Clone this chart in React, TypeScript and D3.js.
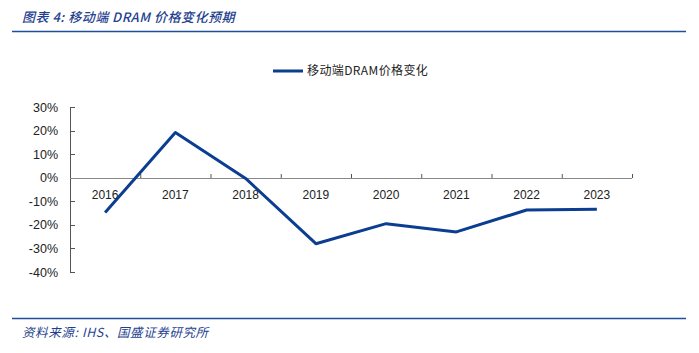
import React from "react";
import * as d3 from "d3";

const years = ["2016", "2017", "2018", "2019", "2020", "2021", "2022", "2023"];
const priceChange = [-14.8, 19.2, -0.3, -28.0, -19.5, -23.0, -13.7, -13.4];
const yTicks = [30, 20, 10, 0, -10, -20, -30, -40];

const W = 699;
const H = 353;
const plot = { left: 70, right: 632, top: 107, bottom: 272 };
const blue = "#0b3d91";

export default function App() {
  const x = d3.scaleBand<string>().domain(years).range([plot.left, plot.right]);
  const y = d3.scaleLinear().domain([-40, 30]).range([plot.bottom, plot.top]);
  const line = d3
    .line<number>()
    .x((_, i) => (x(years[i]) as number) + x.bandwidth() / 2)
    .y((d) => y(d));
  const font = "'Liberation Sans', Arial, sans-serif";
  const y0 = y(0);
  return (
    <svg width={W} height={H} style={{ position: "absolute", left: 0, top: 0 }}>
      <rect width={W} height={H} fill="#fff" />
      <text x={22} y={22} fontFamily="'Noto Sans CJK SC', sans-serif" fontSize={13} fontStyle="italic" fontWeight={500} letterSpacing={0.5} fill="#1f3f8f">
        图表 4:  移动端 DRAM 价格变化预期
      </text>
      <line x1={12} x2={686} y1={31.5} y2={31.5} stroke="#1f4e9a" strokeWidth={1.3} />
      <line x1={12} x2={686} y1={318.5} y2={318.5} stroke="#1f4e9a" strokeWidth={1.3} />
      <text x={22} y={337} fontFamily="'Noto Sans CJK SC', sans-serif" fontSize={12.5} fontStyle="italic" letterSpacing={0.6} fill="#1f3f8f">
        资料来源:  IHS、国盛证券研究所
      </text>
      {/* legend */}
      <line x1={273} x2={303} y1={71} y2={71} stroke={blue} strokeWidth={3} />
      <text x={307} y={75} fontFamily="'Noto Sans CJK SC', sans-serif" fontSize={12} letterSpacing={0.4} fill="#222">
        移动端DRAM价格变化
      </text>
      {/* y axis */}
      <line x1={plot.left + 0.5} x2={plot.left + 0.5} y1={plot.top} y2={plot.bottom} stroke="#555" />
      {yTicks.map((t) => (
        <g key={t}>
          <line x1={plot.left} x2={plot.left + 5} y1={Math.round(y(t)) + 0.5} y2={Math.round(y(t)) + 0.5} stroke="#555" />
          <text x={plot.left - 12} y={y(t) + 4.5} textAnchor="end" fontFamily={font} fontSize={12.5} fill="#222">
            {t}%
          </text>
        </g>
      ))}
      {/* x axis at 0 */}
      <line x1={plot.left} x2={plot.right} y1={Math.round(y0) + 0.5} y2={Math.round(y0) + 0.5} stroke="#888" />
      {years.map((yr) => (
        <line
          key={"t" + yr}
          x1={(x(yr) as number) + x.bandwidth() + 0.5}
          x2={(x(yr) as number) + x.bandwidth() + 0.5}
          y1={Math.round(y0) - 4}
          y2={Math.round(y0)}
          stroke="#555"
        />
      ))}
      {years.map((yr) => (
        <text key={yr} x={(x(yr) as number) + x.bandwidth() / 2} y={y0 + 21} textAnchor="middle" fontFamily={font} fontSize={12} fill="#222">
          {yr}
        </text>
      ))}
      <path d={line(priceChange) || ""} fill="none" stroke={blue} strokeWidth={3} strokeLinejoin="round" />
    </svg>
  );
}
